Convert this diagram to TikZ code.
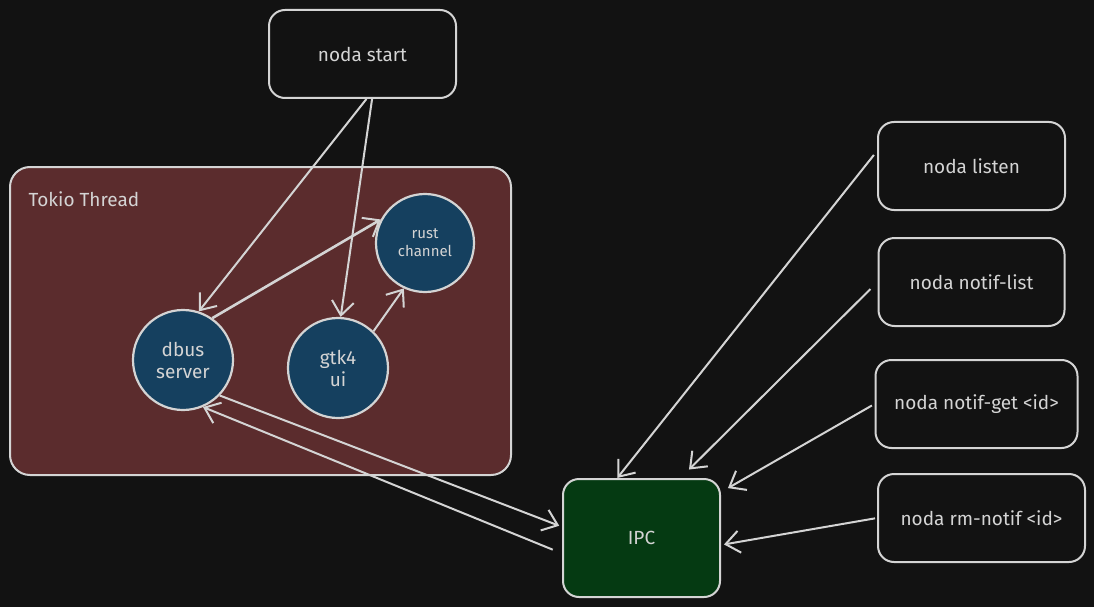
\documentclass[tikz,border=0pt]{standalone}
\usepackage{fontspec}
\setmainfont{Fira Sans}
\usepackage{tikz}
\usetikzlibrary{arrows.meta,positioning}
\definecolor{bgdark}{HTML}{121212}
\definecolor{inkgray}{HTML}{D4D4D4}
\definecolor{tokiored}{HTML}{5B2C2D}
\definecolor{chanblue}{HTML}{15405F}
\definecolor{ipcgreen}{HTML}{053A12}
\tikzset{
  cmd/.style={draw=inkgray, line width=2pt, rounded corners=16pt, fill=bgdark,
    text=inkgray, minimum height=88pt, font=\fontsize{19}{22}\selectfont},
  task/.style={circle, draw=inkgray, line width=2.2pt, fill=chanblue, text=inkgray,
    minimum size=100pt, inner sep=0pt, align=center, font=\fontsize{19}{22}\selectfont},
  flow/.style={draw=inkgray, line width=2pt,
    -{Straight Barb[length=14pt,width=22pt,line width=2pt]}},
}

\begin{document}
\begin{tikzpicture}[x=1pt,y=-1pt]
        \fill[bgdark] (0,0) rectangle (1094,607);
        \useasboundingbox (0,0) rectangle (1094,607);

        %% tokio thread and what runs in it
        \node (tokio)[draw=inkgray, line width=2pt, fill=tokiored, rounded corners=20pt,
          minimum width=501pt, minimum height=308pt] at (260.5,321) {};
        \node (tokiolbl)[anchor=west, text=inkgray, font=\fontsize{19}{22}\selectfont] at (25,199) {Tokio Thread};
        \node (dbus)[task] at (183,360) {dbus\\server};
        \node (gtk)[task] at (338,368) {gtk4\\ui};
        \node (chan)[task, minimum size=98pt, font=\fontsize{15}{18}\selectfont] at (425,243) {rust\\channel};

        \node (start)[cmd, minimum width=187pt] at (362.5,54) {noda start};
        \node (ipc)[cmd, fill=ipcgreen, minimum width=157pt, minimum height=118pt] at (641.5,538) {IPC};

        %% client commands
        \node (listen)[cmd, minimum width=187pt] at (971.5,166) {noda listen};
        \node (nlist)[cmd, minimum width=186pt, below=26pt of listen] {noda notif-list};
        \node (nget)[cmd, minimum width=202pt, below=32pt of nlist, xshift=5pt] {noda notif-get <id>};
        \node (nrm)[cmd, minimum width=207pt, below=24pt of nget, xshift=5pt] {noda rm-notif <id>};

        \draw[flow] (start.-85) -- (dbus.72);
        \draw[flow] (start.-78) -- (gtk.87);
        \draw[flow, line width=2.6pt] (dbus.55) -- (chan.152);
        \draw[flow] (gtk.46) -- (chan.245);
        \draw[flow, shorten >=3pt] (dbus.-44) -- (ipc.172);
        \draw[flow, shorten <=10pt] (ipc.191) -- (dbus.-67);

        \draw[flow, shorten <=5pt] (listen.171) -- (ipc.112);
        \draw[flow, shorten <=10pt, shorten >=12pt] (nlist.west) -- (ipc.57);
        \draw[flow, shorten <=3pt, shorten >=8pt] (nget.west) -- (ipc.30);
        \draw[flow, shorten <=2pt, shorten >=3pt] (nrm.west) -- (ipc.-5);

      \end{tikzpicture}
\end{document}
